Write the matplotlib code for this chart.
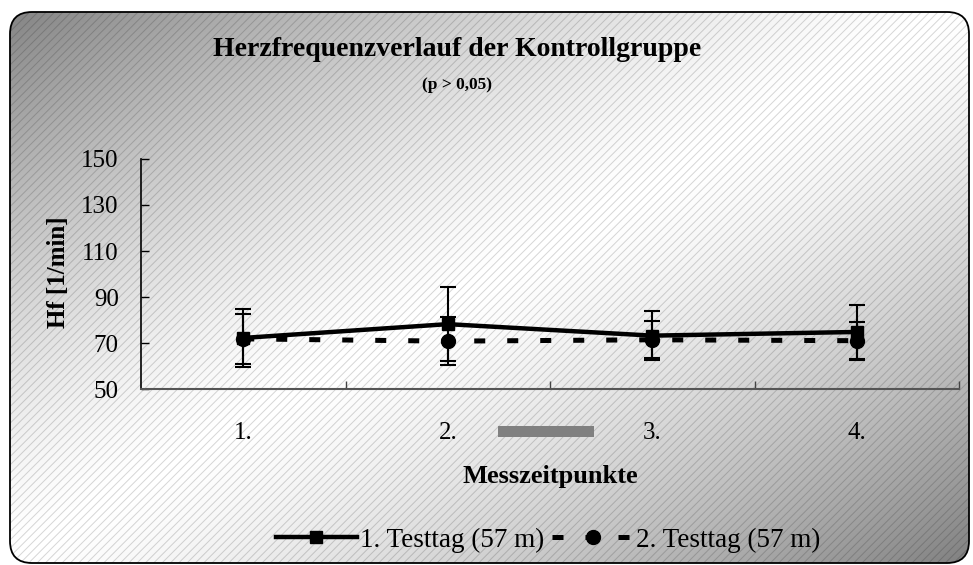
import numpy as np
import matplotlib
matplotlib.use('Agg')
from matplotlib import pyplot as plt
from matplotlib.patches import FancyBboxPatch, Rectangle

# Heart rate of the control group, two test days, 4 measuring points

categories = ['1.', '2.', '3.', '4.']
series_names = ['1. Testtag (57 m)', '2. Testtag (57 m)']

day1_mean = [72.2, 78.2, 73.2, 74.8]
day1_sd = [12.6, 16.0, 10.8, 11.6]

day2_mean = [71.8, 70.8, 71.4, 71.0]
day2_sd = [10.8, 10.3, 8.0, 8.2]

yticks = [50, 70, 90, 110, 130, 150]

W, H = 973, 565

plt.rcParams['font.family'] = ['Liberation Serif', 'DejaVu Serif']
plt.rcParams['hatch.linewidth'] = 0.7

fig = plt.figure(figsize=(W / 100, H / 100), dpi=100)

# background: rounded frame, diagonal grey shading and hatching
bg = fig.add_axes([0, 0, 1, 1])
bg.set_xlim(0, W)
bg.set_ylim(H, 0)
bg.axis('off')

box = dict(boxstyle='round,pad=0,rounding_size=22')
frame = FancyBboxPatch((10, 12), 959, 551, facecolor='none', edgecolor='none', **box)
bg.add_patch(frame)

gx, gy = np.meshgrid(np.linspace(0, 1, 400), np.linspace(0, 1, 240))
t = np.abs(gx + gy - 1.0)
shade = 1.0 - 0.5 * np.clip(t, 0, 1) ** 1.4
img = bg.imshow(shade, cmap='gray', vmin=0, vmax=1, extent=(0, W, H, 0),
                aspect='auto', interpolation='bilinear', zorder=0)
img.set_clip_path(frame)

hatch = FancyBboxPatch((10, 12), 959, 551, facecolor='none', edgecolor=(0, 0, 0, 0.16),
                       linewidth=0, hatch='////', zorder=1, **box)
bg.add_patch(hatch)

border = FancyBboxPatch((10, 12), 959, 551, facecolor='none', edgecolor='black',
                        linewidth=1.3, zorder=2, **box)
bg.add_patch(border)

# grey marker bar between 2. and 3.
bg.add_patch(Rectangle((498, 426), 96, 11, facecolor='#808080', edgecolor='none', zorder=3))

# main plot area
ax = fig.add_axes([141 / W, 1 - 389 / H, 818 / W, 230 / H])
ax.set_facecolor('none')

x = np.arange(1, len(categories) + 1)

e2 = ax.errorbar(x, day2_mean, yerr=day2_sd, color='black', lw=3.6,
                 dashes=(2.2, 4.4), marker='o', markersize=10,
                 ecolor='black', elinewidth=1.5, capsize=5.5, capthick=1.5, zorder=3)
e1 = ax.errorbar(x, day1_mean, yerr=day1_sd, color='black', lw=3.2,
                 marker='s', markersize=9,
                 ecolor='black', elinewidth=1.5, capsize=6, capthick=1.5, zorder=4)

ax.set_xlim(0.5, 4.5)
ax.set_ylim(50, 150)
ax.set_yticks(yticks)
ax.set_xticks([1.5, 2.5, 3.5, 4.5])
ax.set_xticklabels([])
ax.set_xticks(x, minor=True)
ax.set_xticklabels(categories, minor=True)

ax.tick_params(axis='y', direction='in', length=6, width=1, pad=16, labelsize=18)
ax.tick_params(axis='x', which='major', direction='in', length=6, width=1, color='#444444')
ax.tick_params(axis='x', which='minor', length=0, pad=24, labelsize=18)

for s in ['top', 'right']:
    ax.spines[s].set_visible(False)
ax.spines['left'].set_linewidth(1.2)
ax.spines['bottom'].set_color('#555555')
ax.spines['bottom'].set_linewidth(1.5)

fig.text(457 / W, 1 - 50 / H, 'Herzfrequenzverlauf der Kontrollgruppe',
         ha='center', va='center', fontsize=20, fontweight='bold')
fig.text(457 / W, 1 - 85 / H, '(p > 0,05)', ha='center', va='center',
         fontsize=12.5, fontweight='bold')
fig.text(58 / W, 1 - 272 / H, 'Hf [1/min]', ha='center', va='center',
         rotation=90, fontsize=18, fontweight='bold')
fig.text(550 / W, 1 - 476 / H, 'Messzeitpunkte', ha='center', va='center',
         fontsize=19, fontweight='bold')

fig.legend([e1[0], e2[0]], series_names, loc='center', bbox_to_anchor=(548 / W, 1 - 540 / H),
           ncol=2, frameon=False, fontsize=19.5, handlelength=3.0, handletextpad=0.1,
           columnspacing=0.3)

fig.savefig('out.png', dpi=100)
